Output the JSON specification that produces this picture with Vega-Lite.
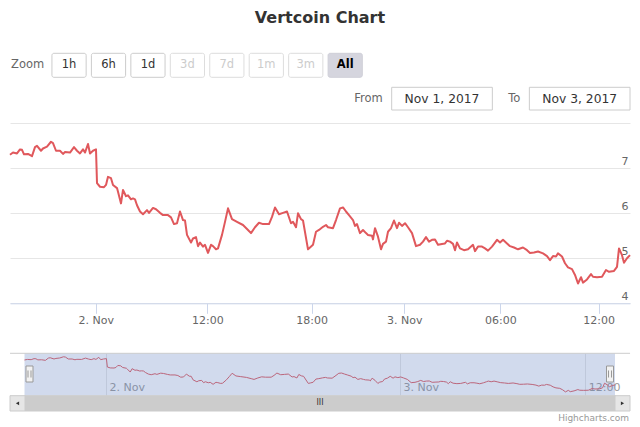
{
  "$schema": "https://vega.github.io/schema/vega-lite/v6.json",
  "width": 640,
  "height": 427,
  "autosize": "none",
  "padding": 0,
  "background": "#ffffff",
  "config": {"view": {"stroke": null}, "font": "DejaVu Sans"},
  "title": {"text": "Vertcoin Chart", "fontSize": 16, "fontWeight": "bold", "color": "#333333", "font": "DejaVu Sans", "anchor": "middle", "frame": "group", "offset": -26},
  "datasets": {
    "price": [
      {"n":0,"v":7.30},{"n":3,"v":7.35},{"n":7,"v":7.33},{"n":10,"v":7.42},{"n":12,"v":7.41},{"n":14,"v":7.31},{"n":18,"v":7.32},{"n":22,"v":7.27},{"n":25,"v":7.47},{"n":27,"v":7.50},
      {"n":31,"v":7.39},{"n":33,"v":7.44},{"n":37,"v":7.48},{"n":41,"v":7.59},{"n":43,"v":7.56},{"n":46,"v":7.39},{"n":50,"v":7.39},{"n":53,"v":7.32},{"n":55,"v":7.36},{"n":60,"v":7.35},
      {"n":64,"v":7.47},{"n":67,"v":7.39},{"n":70,"v":7.33},{"n":73,"v":7.42},{"n":75,"v":7.35},{"n":78,"v":7.54},{"n":80,"v":7.33},{"n":83,"v":7.39},{"n":86,"v":7.42},{"n":87,"v":6.67},
      {"n":90,"v":6.59},{"n":94,"v":6.58},{"n":96,"v":6.63},{"n":98,"v":6.81},{"n":101,"v":6.78},{"n":103,"v":6.63},{"n":107,"v":6.56},{"n":108,"v":6.48},{"n":111,"v":6.22},{"n":113,"v":6.52},
      {"n":116,"v":6.38},{"n":118,"v":6.40},{"n":121,"v":6.31},{"n":123,"v":6.33},{"n":125,"v":6.31},{"n":127,"v":6.18},{"n":130,"v":6.04},{"n":133,"v":5.98},{"n":137,"v":6.07},{"n":139,"v":6.01},
      {"n":143,"v":6.12},{"n":146,"v":6.09},{"n":150,"v":6.01},{"n":153,"v":5.96},{"n":158,"v":5.96},{"n":161,"v":5.91},{"n":164,"v":5.76},{"n":167,"v":5.78},{"n":170,"v":6.04},{"n":173,"v":5.85},
      {"n":175,"v":5.84},{"n":177,"v":5.52},{"n":181,"v":5.35},{"n":183,"v":5.44},{"n":186,"v":5.47},{"n":188,"v":5.27},{"n":190,"v":5.35},{"n":193,"v":5.26},{"n":195,"v":5.30},{"n":198,"v":5.12},
      {"n":201,"v":5.30},{"n":203,"v":5.27},{"n":206,"v":5.20},{"n":208,"v":5.22},{"n":212,"v":5.52},{"n":215,"v":5.81},{"n":218,"v":6.11},{"n":222,"v":5.87},{"n":227,"v":5.81},{"n":233,"v":5.74},
      {"n":238,"v":5.63},{"n":241,"v":5.56},{"n":245,"v":5.69},{"n":249,"v":5.79},{"n":253,"v":5.76},{"n":259,"v":5.76},{"n":262,"v":5.92},{"n":265,"v":6.13},{"n":269,"v":5.98},{"n":273,"v":6.01},
      {"n":277,"v":6.04},{"n":281,"v":5.78},{"n":283,"v":5.81},{"n":286,"v":5.69},{"n":288,"v":6.00},{"n":291,"v":5.87},{"n":293,"v":5.84},{"n":298,"v":5.20},{"n":300,"v":5.24},{"n":303,"v":5.30},
      {"n":306,"v":5.59},{"n":309,"v":5.63},{"n":313,"v":5.70},{"n":316,"v":5.74},{"n":318,"v":5.69},{"n":323,"v":5.67},{"n":326,"v":5.85},{"n":330,"v":6.11},{"n":333,"v":6.13},{"n":336,"v":6.04},
      {"n":339,"v":5.96},{"n":343,"v":5.85},{"n":345,"v":5.72},{"n":347,"v":5.76},{"n":350,"v":5.56},{"n":353,"v":5.63},{"n":356,"v":5.56},{"n":358,"v":5.52},{"n":362,"v":5.50},{"n":363,"v":5.42},
      {"n":365,"v":5.67},{"n":368,"v":5.48},{"n":371,"v":5.20},{"n":373,"v":5.32},{"n":376,"v":5.37},{"n":378,"v":5.59},{"n":381,"v":5.67},{"n":384,"v":5.84},{"n":387,"v":5.67},{"n":389,"v":5.79},
      {"n":392,"v":5.72},{"n":395,"v":5.78},{"n":398,"v":5.69},{"n":402,"v":5.56},{"n":406,"v":5.27},{"n":410,"v":5.30},{"n":413,"v":5.37},{"n":416,"v":5.47},{"n":419,"v":5.37},{"n":422,"v":5.41},
      {"n":425,"v":5.42},{"n":428,"v":5.30},{"n":432,"v":5.32},{"n":435,"v":5.33},{"n":437,"v":5.39},{"n":440,"v":5.37},{"n":443,"v":5.32},{"n":445,"v":5.18},{"n":447,"v":5.35},{"n":450,"v":5.22},
      {"n":454,"v":5.18},{"n":458,"v":5.20},{"n":463,"v":5.30},{"n":465,"v":5.16},{"n":468,"v":5.26},{"n":472,"v":5.26},{"n":475,"v":5.22},{"n":478,"v":5.17},{"n":482,"v":5.26},{"n":485,"v":5.35},
      {"n":487,"v":5.41},{"n":490,"v":5.35},{"n":493,"v":5.41},{"n":497,"v":5.33},{"n":500,"v":5.27},{"n":504,"v":5.24},{"n":508,"v":5.20},{"n":513,"v":5.24},{"n":517,"v":5.18},{"n":520,"v":5.12},
      {"n":524,"v":5.13},{"n":528,"v":5.15},{"n":533,"v":5.11},{"n":537,"v":5.05},{"n":540,"v":4.96},{"n":543,"v":5.05},{"n":546,"v":5.04},{"n":548,"v":5.11},{"n":552,"v":5.04},{"n":555,"v":4.89},
      {"n":558,"v":4.80},{"n":562,"v":4.76},{"n":565,"v":4.63},{"n":568,"v":4.44},{"n":571,"v":4.58},{"n":573,"v":4.46},{"n":577,"v":4.53},{"n":581,"v":4.65},{"n":583,"v":4.59},{"n":587,"v":4.58},
      {"n":592,"v":4.59},{"n":596,"v":4.74},{"n":599,"v":4.70},{"n":604,"v":4.72},{"n":607,"v":4.81},{"n":609,"v":5.22},{"n":612,"v":5.07},{"n":614,"v":4.90},{"n":617,"v":5.00},{"n":620,"v":5.07}
    ],
    "buttons": [
      {"label":"Zoom","kind":"label"},
      {"label":"1h","kind":"enabled"},
      {"label":"6h","kind":"enabled"},
      {"label":"1d","kind":"enabled"},
      {"label":"3d","kind":"disabled"},
      {"label":"7d","kind":"disabled"},
      {"label":"1m","kind":"disabled"},
      {"label":"3m","kind":"disabled"},
      {"label":"All","kind":"selected"}
    ],
    "inputs": [
      {"label":"From","value":"Nov 1, 2017"},
      {"label":"To","value":"Nov 3, 2017"}
    ],
    "handles": [
      {"side":"left","n":0},
      {"side":"right","n":620}
    ]
  },
  "layer": [
    {
      "data": {"name": "price"},
      "mark": {"type": "line", "color": "#e0585c", "strokeWidth": 2, "strokeJoin": "round"},
      "encoding": {
        "x": {"field": "n", "type": "quantitative",
          "scale": {"domain": [0, 620], "range": [10, 630], "nice": false, "zero": false},
          "axis": {"orient": "bottom", "offset": -123.7, "values": [85.7, 197.3, 301.7, 394.3, 490.3, 588.7],
            "labelExpr": "datum.value < 100 ? '2. Nov' : datum.value < 250 ? '12:00' : datum.value < 350 ? '18:00' : datum.value < 450 ? '3. Nov' : datum.value < 540 ? '06:00' : '12:00'",
            "grid": false, "domainColor": "#ccd6eb", "tickColor": "#ccd6eb", "tickSize": 10, "labelColor": "#666666", "labelFontSize": 11,
            "labelPadding": 1, "title": null, "labelFlush": false, "labelOverlap": false}},
        "y": {"field": "v", "type": "quantitative",
          "scale": {"domain": [4, 8], "range": [303.3, 123.3], "nice": false, "zero": false},
          "axis": {"orient": "right", "offset": -10, "values": [4, 5, 6, 7, 8],
            "labelExpr": "datum.value == 8 ? '' : datum.label",
            "grid": true, "gridColor": "#e6e6e6", "domain": false, "ticks": false,
            "labelAlign": "right", "labelBaseline": "bottom", "labelPadding": -2, "labelOffset": -2,
            "labelColor": "#666666", "labelFontSize": 11, "title": null, "labelFlush": false, "labelOverlap": false}}
      }
    },
    {
      "layer": [
        {
          "data": {"name": "price"},
          "mark": {"type": "line", "color": "#e0585c", "strokeWidth": 1},
          "encoding": {
            "x": {"field": "n", "type": "quantitative",
              "scale": {"domain": [0, 620], "range": [24.5, 615], "nice": false, "zero": false},
              "axis": {"orient": "top", "offset": -395.7, "values": [85.7, 394.3, 588.7],
                "labelExpr": "datum.value < 200 ? '2. Nov' : datum.value < 500 ? '3. Nov' : '12:00'",
                "grid": true, "gridColor": "#e6e6e6", "domain": false, "ticks": false,
                "labelAlign": "left", "labelBaseline": "bottom", "labelPadding": 3.5, "labelOffset": 3,
                "labelColor": "#999999", "labelFontSize": 11, "title": null, "labelFlush": false, "labelOverlap": false}},
            "y": {"field": "v", "type": "quantitative",
              "scale": {"domain": [4.1, 7.9], "range": [395.7, 353.3], "nice": false, "zero": false},
              "axis": null}
          }
        },
        {
          "data": {"values": [{}]},
          "mark": {"type": "rect", "fill": "#6685c2", "fillOpacity": 0.3},
          "encoding": {
            "x": {"datum": 0, "type": "quantitative"},
            "x2": {"datum": 620},
            "y": {"datum": 4.1, "type": "quantitative"},
            "y2": {"datum": 7.9}
          }
        },
        {
          "data": {"values": [{}]},
          "mark": {"type": "rule", "color": "#cccccc", "strokeWidth": 1},
          "encoding": {
            "x": {"datum": -15.2, "type": "quantitative"},
            "x2": {"datum": 635.8},
            "y": {"datum": 7.9, "type": "quantitative"}
          }
        }
      ]
    },
    {
      "data": {"name": "buttons"},
      "layer": [
        {
          "transform": [{"filter": "datum.kind != 'label'"}],
          "mark": {"type": "rect", "cornerRadius": 2, "strokeWidth": 1},
          "encoding": {
            "x": {"field": "label", "type": "nominal", "sort": null,
              "scale": {"type": "band", "domain": ["Zoom","1h","6h","1d","3d","7d","1m","3m","All"], "range": [12.5, 362.3], "paddingInner": 0.133, "paddingOuter": 0},
              "axis": null},
            "y": {"datum": 0, "type": "quantitative", "scale": {"domain": [0, 1], "range": [77.3, 53.3]}, "axis": null},
            "y2": {"datum": 1},
            "fill": {"field": "kind", "type": "nominal", "scale": {"domain": ["enabled","disabled","selected"], "range": ["#ffffff","#ffffff","#d5d5de"]}, "legend": null},
            "stroke": {"field": "kind", "type": "nominal", "scale": {"domain": ["enabled","disabled","selected"], "range": ["#cccccc","#dddddd","#cfcfd8"]}, "legend": null}
          }
        },
        {
          "transform": [{"filter": "datum.kind == 'enabled' || datum.kind == 'disabled'"}],
          "mark": {"type": "text", "fontSize": 11.5, "baseline": "middle", "align": "center"},
          "encoding": {
            "x": {"field": "label", "type": "nominal", "sort": null,
              "scale": {"type": "band", "domain": ["Zoom","1h","6h","1d","3d","7d","1m","3m","All"], "range": [12.5, 362.3], "paddingInner": 0.133, "paddingOuter": 0},
              "axis": null},
            "y": {"datum": 0.5, "type": "quantitative", "scale": {"domain": [0, 1], "range": [77.3, 53.3]}, "axis": null},
            "text": {"field": "label"},
            "color": {"field": "kind", "type": "nominal", "scale": {"domain": ["enabled","disabled"], "range": ["#333333","#cccccc"]}, "legend": null}
          }
        },
        {
          "transform": [{"filter": "datum.kind == 'selected'"}],
          "mark": {"type": "text", "fontSize": 11.5, "fontWeight": "bold", "baseline": "middle", "align": "center", "color": "#000000"},
          "encoding": {
            "x": {"field": "label", "type": "nominal", "sort": null,
              "scale": {"type": "band", "domain": ["Zoom","1h","6h","1d","3d","7d","1m","3m","All"], "range": [12.5, 362.3], "paddingInner": 0.133, "paddingOuter": 0},
              "axis": null},
            "y": {"datum": 0.5, "type": "quantitative", "scale": {"domain": [0, 1], "range": [77.3, 53.3]}, "axis": null},
            "text": {"field": "label"}
          }
        },
        {
          "transform": [{"filter": "datum.kind == 'label'"}],
          "mark": {"type": "text", "fontSize": 11.5, "baseline": "middle", "align": "left", "color": "#666666", "dx": -1.5},
          "encoding": {
            "x": {"field": "label", "type": "nominal", "sort": null, "bandPosition": 0,
              "scale": {"type": "band", "domain": ["Zoom","1h","6h","1d","3d","7d","1m","3m","All"], "range": [12.5, 362.3], "paddingInner": 0.133, "paddingOuter": 0},
              "axis": null},
            "y": {"datum": 0.5, "type": "quantitative", "scale": {"domain": [0, 1], "range": [77.3, 53.3]}, "axis": null},
            "text": {"field": "label"}
          }
        }
      ]
    },
    {
      "data": {"name": "inputs"},
      "layer": [
        {
          "mark": {"type": "rect", "fill": "#ffffff", "stroke": "#cccccc", "strokeWidth": 1},
          "encoding": {
            "x": {"field": "label", "type": "nominal", "sort": null,
              "scale": {"type": "band", "domain": ["From","To"], "range": [391.7, 630], "paddingInner": 0.269, "paddingOuter": 0},
              "axis": null},
            "y": {"datum": 0, "type": "quantitative", "scale": {"domain": [0, 1], "range": [110, 87.3]}, "axis": null},
            "y2": {"datum": 1}
          }
        },
        {
          "mark": {"type": "text", "fontSize": 12.3, "baseline": "middle", "align": "center", "color": "#333333"},
          "encoding": {
            "x": {"field": "label", "type": "nominal", "sort": null,
              "scale": {"type": "band", "domain": ["From","To"], "range": [391.7, 630], "paddingInner": 0.269, "paddingOuter": 0},
              "axis": null},
            "y": {"datum": 0.5, "type": "quantitative", "scale": {"domain": [0, 1], "range": [110, 87.3]}, "axis": null},
            "text": {"field": "value"}
          }
        },
        {
          "mark": {"type": "text", "fontSize": 11.5, "baseline": "middle", "align": "right", "color": "#666666", "dx": -9},
          "encoding": {
            "x": {"field": "label", "type": "nominal", "sort": null, "bandPosition": 0,
              "scale": {"type": "band", "domain": ["From","To"], "range": [391.7, 630], "paddingInner": 0.269, "paddingOuter": 0},
              "axis": null},
            "y": {"datum": 0.5, "type": "quantitative", "scale": {"domain": [0, 1], "range": [110, 87.3]}, "axis": null},
            "text": {"field": "label"}
          }
        }
      ]
    },
    {
      "data": {"values": [{}]},
      "encoding": {
        "x": {"datum": 0, "type": "quantitative", "scale": {"domain": [0, 620], "range": [10, 630], "nice": false, "zero": false}, "axis": null},
        "y": {"datum": 0, "type": "quantitative", "scale": {"domain": [0, 1], "range": [411, 395.7], "nice": false, "zero": false}, "axis": null}
      },
      "layer": [
        {"mark": {"type": "rect", "fill": "#f2f2f2"}, "encoding": {"x": {"datum": 0, "type": "quantitative"}, "x2": {"datum": 620}, "y": {"datum": 0, "type": "quantitative"}, "y2": {"datum": 1}}},
        {"mark": {"type": "rect", "fill": "#cccccc", "stroke": "#cccccc", "strokeWidth": 1}, "encoding": {"x": {"datum": 15, "type": "quantitative"}, "x2": {"datum": 605}, "y": {"datum": 0, "type": "quantitative"}, "y2": {"datum": 1}}},
        {"mark": {"type": "rect", "fill": "#e6e6e6", "stroke": "#cccccc", "strokeWidth": 1}, "encoding": {"x": {"datum": 0, "type": "quantitative"}, "x2": {"datum": 15}, "y": {"datum": 0, "type": "quantitative"}, "y2": {"datum": 1}}},
        {"mark": {"type": "rect", "fill": "#e6e6e6", "stroke": "#cccccc", "strokeWidth": 1}, "encoding": {"x": {"datum": 605, "type": "quantitative"}, "x2": {"datum": 620}, "y": {"datum": 0, "type": "quantitative"}, "y2": {"datum": 1}}},
        {"mark": {"type": "point", "shape": "triangle-left", "filled": true, "color": "#333333", "size": 14, "opacity": 1}, "encoding": {"x": {"datum": 7.5, "type": "quantitative"}, "y": {"datum": 0.5, "type": "quantitative"}}},
        {"mark": {"type": "point", "shape": "triangle-right", "filled": true, "color": "#333333", "size": 14, "opacity": 1}, "encoding": {"x": {"datum": 612.5, "type": "quantitative"}, "y": {"datum": 0.5, "type": "quantitative"}}},
        {"mark": {"type": "text", "text": "III", "fontSize": 8, "baseline": "middle", "align": "center", "color": "#333333"}, "encoding": {"x": {"datum": 310, "type": "quantitative"}, "y": {"datum": 0.5, "type": "quantitative"}}},
        {"mark": {"type": "text", "text": "Highcharts.com", "fontSize": 9, "baseline": "top", "align": "right", "color": "#999999", "dy": 2.5, "dx": -1}, "encoding": {"x": {"datum": 620, "type": "quantitative"}, "y": {"datum": 0, "type": "quantitative"}}}
      ]
    },
    {
      "data": {"name": "handles"},
      "encoding": {
        "x": {"field": "n", "type": "quantitative", "scale": {"domain": [0, 620], "range": [24.5, 615], "nice": false, "zero": false}, "axis": null}
      },
      "layer": [
        {"mark": {"type": "bar", "width": 7, "fill": "#f2f2f2", "stroke": "#999999", "strokeWidth": 1, "orient": "vertical"},
         "encoding": {"y": {"datum": 0, "type": "quantitative", "scale": {"domain": [0, 1], "range": [382, 366], "nice": false, "zero": false}, "axis": null}, "y2": {"datum": 1}}},
        {"mark": {"type": "rule", "color": "#999999", "strokeWidth": 1, "xOffset": -1.5},
         "encoding": {"y": {"datum": 0.28, "type": "quantitative"}, "y2": {"datum": 0.72}}},
        {"mark": {"type": "rule", "color": "#999999", "strokeWidth": 1, "xOffset": 1.5},
         "encoding": {"y": {"datum": 0.28, "type": "quantitative"}, "y2": {"datum": 0.72}}}
      ]
    }
  ],
  "resolve": {"scale": {"x": "independent", "y": "independent", "fill": "independent", "stroke": "independent", "color": "independent"}}
}
